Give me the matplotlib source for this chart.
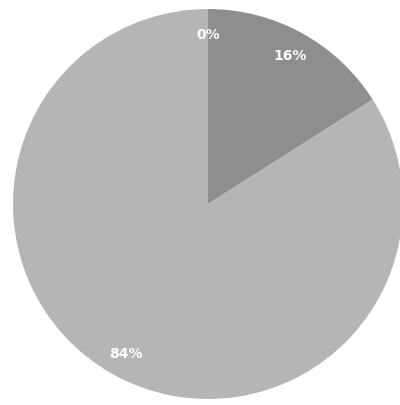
import matplotlib
matplotlib.use("Agg")
import matplotlib.pyplot as plt

# parts of the pie (percent)
labels = ["0%", "16%", "84%"]
values = [0, 16, 84]
colours = ["#a9a9a9", "#8e8e8e", "#b5b5b5"]

fig = plt.figure(figsize=(4, 4.06), dpi=100)
ax = fig.add_axes([13 / 400, 6 / 406, 390 / 400, 390 / 406])

wedges, texts = ax.pie(values, colors=colours, startangle=90, counterclock=False,
                       radius=1, wedgeprops=dict(linewidth=0))

# put the labels inside the slices, same as the original
total = sum(values)
import numpy as np
angle = 90.0
for lab, v in zip(labels, values):
    frac = v / total * 360.0
    mid = np.deg2rad(angle - frac / 2)
    ax.text(0.87 * np.cos(mid), 0.87 * np.sin(mid), lab, color="white",
            ha="center", va="center", fontsize=10, fontweight="bold",
            family="DejaVu Sans")
    angle -= frac

ax.set_xlim(-1, 1)
ax.set_ylim(-1, 1)
ax.set_aspect("equal")
ax.axis("off")

fig.savefig("out.png", dpi=100)
